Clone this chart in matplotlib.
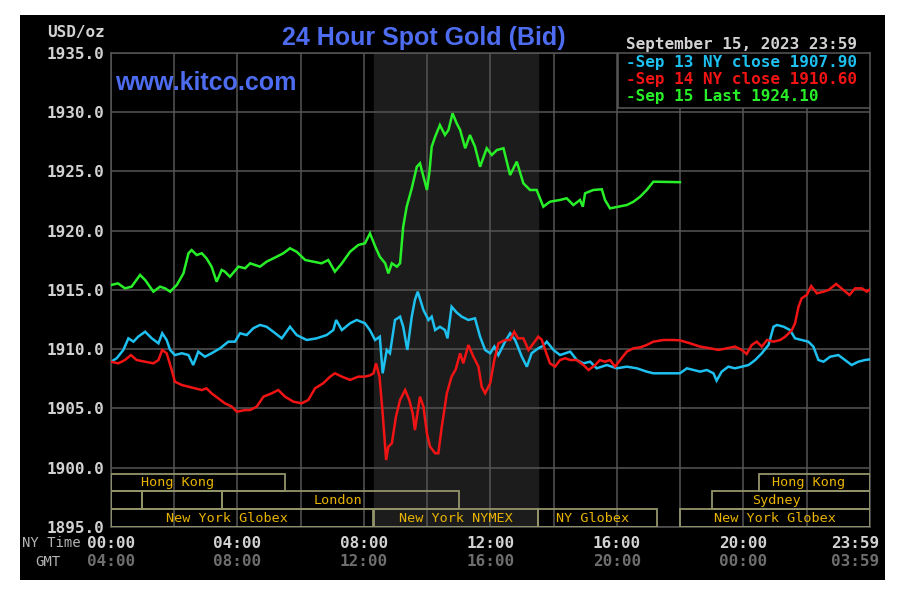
import matplotlib
matplotlib.use('Agg')
import matplotlib.pyplot as plt
from matplotlib.patches import Rectangle

# 画布尺寸 (像素)
W, H = 903, 595

# 数据: 纽约时间(小时) 和 金价
cyan_hours = [0.0, 0.18, 0.39, 0.55, 0.71, 0.86, 1.08, 1.29, 1.50, 1.62, 1.76, 1.87, 2.02, 2.24,
              2.45, 2.60, 2.76, 2.97, 3.18, 3.45, 3.71, 3.92, 4.08, 4.29, 4.50, 4.71, 4.92, 5.13,
              5.40, 5.66, 5.87, 6.19, 6.50, 6.82, 7.03, 7.12, 7.30, 7.56, 7.77, 8.03, 8.19, 8.35,
              8.50, 8.59, 8.72, 8.82, 8.98, 9.14, 9.24, 9.37, 9.51, 9.61, 9.70, 9.88, 10.04, 10.14,
              10.25, 10.40, 10.56, 10.64, 10.77, 10.93, 11.09, 11.30, 11.51, 11.67, 11.83, 11.99,
              12.12, 12.25, 12.46, 12.62, 12.78, 12.99, 13.15, 13.30, 13.51, 13.67, 13.78, 13.99,
              14.20, 14.52, 14.73, 14.94, 15.15, 15.36, 15.68, 15.99, 16.31, 16.63, 16.94, 17.15,
              17.99, 18.21, 18.42, 18.63, 18.84, 19.05, 19.15, 19.31, 19.52, 19.73, 19.95, 20.16,
              20.37, 20.58, 20.79, 20.95, 21.06, 21.27, 21.47, 21.63, 21.84, 22.05, 22.21, 22.37,
              22.53, 22.74, 23.00, 23.21, 23.42, 23.63, 23.84, 24.0]
cyan_prices = [1908.95, 1909.24, 1909.94, 1910.92, 1910.64, 1911.06, 1911.48, 1910.92, 1910.50,
               1911.35, 1910.78, 1909.94, 1909.51, 1909.66, 1909.51, 1908.67, 1909.80, 1909.37,
               1909.66, 1910.08, 1910.64, 1910.64, 1911.35, 1911.20, 1911.77, 1912.05, 1911.90,
               1911.48, 1910.92, 1911.90, 1911.20, 1910.78, 1910.92, 1911.20, 1911.62, 1912.47,
               1911.62, 1912.19, 1912.47, 1912.19, 1911.60, 1910.78, 1911.06, 1907.97, 1909.94,
               1909.66, 1912.47, 1912.75, 1911.90, 1909.94, 1912.75, 1914.16, 1914.86, 1913.31,
               1912.47, 1912.75, 1911.62, 1911.90, 1911.62, 1910.92, 1913.59, 1913.10, 1912.75,
               1912.47, 1912.61, 1911.06, 1909.94, 1909.66, 1910.22, 1909.51, 1910.64, 1911.35,
               1910.78, 1909.37, 1908.53, 1909.66, 1910.08, 1910.30, 1910.64, 1909.94, 1909.51,
               1909.80, 1909.09, 1908.81, 1908.95, 1908.39, 1908.67, 1908.39, 1908.53, 1908.39,
               1908.11, 1907.97, 1907.97, 1908.39, 1908.25, 1908.11, 1908.25, 1907.97, 1907.35,
               1908.11, 1908.53, 1908.39, 1908.53, 1908.67, 1909.09, 1909.66, 1910.36, 1911.90,
               1912.05, 1911.90, 1911.62, 1910.92, 1910.78, 1910.64, 1910.22, 1909.09, 1908.95,
               1909.37, 1909.51, 1909.09, 1908.67, 1908.95, 1909.09, 1909.15]

red_hours = [0.0, 0.23, 0.44, 0.63, 0.81, 1.08, 1.34, 1.50, 1.62, 1.76, 1.92, 2.02, 2.24, 2.45,
             2.66, 2.87, 3.02, 3.18, 3.39, 3.60, 3.82, 3.98, 4.24, 4.40, 4.61, 4.82, 5.08, 5.29,
             5.50, 5.77, 6.03, 6.24, 6.45, 6.71, 6.93, 7.08, 7.30, 7.56, 7.82, 8.03, 8.19, 8.30,
             8.38, 8.49, 8.59, 8.70, 8.77, 8.88, 9.01, 9.14, 9.30, 9.43, 9.54, 9.61, 9.77, 9.88,
             9.99, 10.09, 10.25, 10.35, 10.46, 10.62, 10.77, 10.90, 11.04, 11.14, 11.30, 11.46,
             11.62, 11.72, 11.83, 11.99, 12.12, 12.25, 12.46, 12.62, 12.75, 12.87, 13.04, 13.20,
             13.36, 13.51, 13.62, 13.73, 13.88, 14.04, 14.20, 14.36, 14.52, 14.73, 14.94, 15.10,
             15.31, 15.46, 15.62, 15.78, 15.94, 16.10, 16.31, 16.52, 16.73, 16.94, 17.15, 17.47,
             17.78, 17.99, 18.31, 18.63, 18.95, 19.21, 19.47, 19.73, 19.95, 20.10, 20.26, 20.42,
             20.58, 20.74, 20.95, 21.16, 21.32, 21.53, 21.63, 21.74, 21.84, 22.00, 22.14, 22.32,
             22.53, 22.69, 22.93, 23.16, 23.35, 23.53, 23.74, 23.90, 24.0]
red_prices = [1908.95, 1908.81, 1909.09, 1909.51, 1909.09, 1908.95, 1908.81, 1909.09, 1909.94,
              1909.66, 1908.25, 1907.26, 1906.98, 1906.84, 1906.70, 1906.56, 1906.70, 1906.28,
              1905.86, 1905.44, 1905.16, 1904.73, 1904.87, 1904.87, 1905.16, 1906.00, 1906.28,
              1906.56, 1906.00, 1905.57, 1905.44, 1905.72, 1906.70, 1907.13, 1907.69, 1907.97,
              1907.69, 1907.41, 1907.69, 1907.69, 1907.80, 1907.97, 1908.81, 1907.69, 1904.59,
              1900.65, 1901.78, 1902.06, 1904.31, 1905.72, 1906.56, 1905.72, 1904.59, 1903.18,
              1906.00, 1905.16, 1902.90, 1901.78, 1901.22, 1901.22, 1903.47, 1906.28, 1907.69,
              1908.30, 1909.66, 1908.81, 1910.36, 1909.37, 1908.53, 1906.84, 1906.28, 1907.13,
              1909.09, 1910.50, 1910.78, 1910.78, 1911.48, 1910.92, 1910.92, 1909.94, 1910.50,
              1911.06, 1910.80, 1909.94, 1908.81, 1908.53, 1909.09, 1909.24, 1909.09, 1909.09,
              1908.67, 1908.25, 1908.67, 1909.09, 1908.95, 1909.09, 1908.53, 1909.09, 1909.80,
              1910.08, 1910.16, 1910.36, 1910.64, 1910.78, 1910.78, 1910.75, 1910.50, 1910.22,
              1910.08, 1909.94, 1910.08, 1910.22, 1909.94, 1909.60, 1910.36, 1910.64, 1910.22,
              1910.78, 1910.64, 1910.78, 1911.06, 1911.62, 1912.19, 1913.59, 1914.30, 1914.58,
              1915.34, 1914.72, 1914.86, 1915.00, 1915.51, 1915.00, 1914.58, 1915.14, 1915.14,
              1914.86, 1915.06]

green_hours = [0.0, 0.22, 0.44, 0.65, 0.92, 1.08, 1.34, 1.55, 1.71, 1.87, 2.08, 2.29, 2.45, 2.55,
               2.71, 2.87, 3.02, 3.18, 3.34, 3.50, 3.60, 3.76, 4.03, 4.24, 4.40, 4.71, 4.92, 5.24,
               5.45, 5.66, 5.87, 6.14, 6.40, 6.66, 6.87, 7.08, 7.30, 7.56, 7.82, 8.03, 8.19, 8.35,
               8.50, 8.67, 8.77, 8.88, 9.04, 9.14, 9.24, 9.35, 9.51, 9.67, 9.77, 9.88, 9.99, 10.07,
               10.14, 10.25, 10.40, 10.56, 10.67, 10.80, 10.93, 11.04, 11.20, 11.35, 11.51, 11.67,
               11.88, 12.04, 12.20, 12.41, 12.62, 12.83, 13.04, 13.25, 13.46, 13.67, 13.88, 14.20,
               14.41, 14.62, 14.83, 14.92, 14.99, 15.25, 15.52, 15.62, 15.78, 16.04, 16.31, 16.52,
               16.73, 16.94, 17.15, 17.99]
green_prices = [1915.42, 1915.56, 1915.14, 1915.28, 1916.27, 1915.84, 1914.86, 1915.28, 1915.14,
                1914.86, 1915.42, 1916.40, 1918.10, 1918.37, 1917.95, 1918.10, 1917.67, 1916.97,
                1915.70, 1916.69, 1916.55, 1916.12, 1916.97, 1916.83, 1917.25, 1916.97, 1917.39,
                1917.81, 1918.10, 1918.52, 1918.23, 1917.53, 1917.39, 1917.25, 1917.53, 1916.55,
                1917.25, 1918.23, 1918.80, 1918.94, 1919.78, 1918.70, 1917.81, 1917.25, 1916.40,
                1917.25, 1916.97, 1917.25, 1920.35, 1922.03, 1923.58, 1925.40, 1925.69, 1924.56,
                1923.44, 1924.98, 1927.09, 1927.94, 1928.92, 1928.08, 1928.50, 1929.91, 1929.07,
                1928.50, 1926.96, 1928.08, 1927.09, 1925.40, 1926.96, 1926.39, 1926.81, 1926.96,
                1924.70, 1925.83, 1924.00, 1923.44, 1923.44, 1922.03, 1922.45, 1922.60, 1922.74,
                1922.17, 1922.60, 1922.03, 1923.16, 1923.44, 1923.50, 1922.60, 1921.89, 1922.03,
                1922.17, 1922.45, 1922.87, 1923.44, 1924.14, 1924.10]

legend_labels = ['-Sep 13 NY close 1907.90', '-Sep 14 NY close 1910.60', '-Sep 15 Last 1924.10']
line_colors = ['#1ec0f0', '#f01414', '#28f028']

y_ticks = [1895, 1900, 1905, 1910, 1915, 1920, 1925, 1930, 1935]
x_label_hours = [0, 4, 8, 12, 16, 20, 24]
ny_labels = ['00:00', '04:00', '08:00', '12:00', '16:00', '20:00', '23:59']
gmt_labels = ['04:00', '08:00', '12:00', '16:00', '20:00', '00:00', '03:59']

# 交易时段框: 名称, 开始, 结束, 行(0=底部), 标签位置
session_names = ['New York Globex', 'New York NYMEX', 'NY Globex', 'New York Globex',
                 '', '', 'London', 'Sydney', 'Hong Kong', 'Hong Kong']
session_start = [0.0, 8.33, 13.5, 18.0, 0.0, 0.97, 3.5, 19.0, 0.0, 20.5]
session_end = [8.27, 13.5, 17.25, 24.0, 0.97, 3.5, 11.0, 24.0, 5.5, 24.0]
session_row = [0, 0, 0, 0, 1, 1, 1, 1, 2, 2]
session_label_at = [3.66, 10.9, 15.24, 21.0, 0, 0, 7.18, 21.03, 2.12, 22.07]
nymex_span = (8.33, 13.5)

MONO = 'DejaVu Sans Mono'
TEXT_GREY = '#d2d2d2'


def px(x, y):
    """像素坐标 -> figure 坐标"""
    return x / W, 1 - y / H


fig = plt.figure(figsize=(W / 100, H / 100), dpi=100)
fig.patch.set_facecolor('white')
# 黑色背景板
fig.patches.append(Rectangle(px(20, 580), 865 / W, 565 / H, transform=fig.transFigure,
                             facecolor='black', edgecolor='none', zorder=-10))

x0, y0 = px(111, 527)
ax = fig.add_axes([x0, y0, 759 / W, 474 / H])
ax.set_zorder(1)
ax.set_facecolor('black')
ax.set_xlim(0, 24)
ax.set_ylim(1895, 1935)
ax.axvspan(*nymex_span, color='#1c1c1c', zorder=0)

# 网格
ax.set_xticks(range(0, 25, 2))
ax.set_yticks(y_ticks)
ax.set_yticklabels([f'{v:.1f}' for v in y_ticks])
ax.grid(color='#555555', linewidth=1.1, zorder=1)
ax.set_axisbelow(True)
ax.tick_params(length=0, labelbottom=False, pad=4.5, labelcolor=TEXT_GREY, labelsize=11.5)
for lbl in ax.get_yticklabels():
    lbl.set_fontfamily(MONO)
    lbl.set_fontweight('bold')
for sp in ax.spines.values():
    sp.set_color('#555555')
    sp.set_linewidth(1.1)

# 交易时段
row_h = 1.5
for name, s, e, r, lx in zip(session_names, session_start, session_end, session_row, session_label_at):
    ax.add_patch(Rectangle((s, 1895 + r * row_h), e - s, row_h, fill=False,
                           edgecolor='#94946a', linewidth=1.3, zorder=3))
    if name:
        ax.text(lx, 1895 + r * row_h + row_h / 2, name, ha='center', va='center',
                color='#e8b400', fontfamily=MONO, fontsize=9.7, zorder=4)

# 价格曲线
for hrs, prices, c in [(cyan_hours, cyan_prices, line_colors[0]),
                       (red_hours, red_prices, line_colors[1]),
                       (green_hours, green_prices, line_colors[2])]:
    ax.plot(hrs, prices, color=c, linewidth=1.8, zorder=4, solid_joinstyle='miter')

# 图例框
ax.add_patch(Rectangle((0.668, 0.884), 0.332, 0.116, transform=ax.transAxes,
                       facecolor='black', edgecolor='#5a5a5a', linewidth=1.1, zorder=5))
for i, (lab, c) in enumerate(zip(legend_labels, line_colors)):
    fig.text(*px(626, 62 + i * 17.5), lab, color=c, fontfamily=MONO, fontweight='bold',
             fontsize=11.5, ha='left', va='center', zorder=6)

# x 轴标签 (纽约时间 / GMT)
for h, ny, gmt in zip(x_label_hours, ny_labels, gmt_labels):
    ha = 'right' if h == 24 else 'center'
    dx = 9 if h == 24 else 0
    ax.annotate(ny, xy=(h, 0), xycoords=('data', 'axes fraction'), xytext=(dx, -16),
                textcoords='offset pixels', ha=ha, va='center', color=TEXT_GREY,
                fontfamily=MONO, fontweight='bold', fontsize=11.5, annotation_clip=False)
    ax.annotate(gmt, xy=(h, 0), xycoords=('data', 'axes fraction'), xytext=(dx, -35),
                textcoords='offset pixels', ha=ha, va='center', color='#6e6e6e',
                fontfamily=MONO, fontweight='bold', fontsize=11.5, annotation_clip=False)
fig.text(*px(22, 543), 'NY Time', color='#b4b4b4', fontfamily=MONO, fontsize=10,
         ha='left', va='center')
fig.text(*px(35, 562), 'GMT', color='#b4b4b4', fontfamily=MONO, fontsize=10,
         ha='left', va='center')

# 标题和文字
fig.text(*px(47, 33), 'USD/oz', color=TEXT_GREY, fontfamily=MONO, fontweight='bold',
         fontsize=11.5, ha='left', va='center')
fig.text(*px(424, 38), '24 Hour Spot Gold (Bid)', color='#4d6cf0', fontfamily='Liberation Sans',
         fontweight='bold', fontsize=18, ha='center', va='center')
fig.text(*px(115, 83), 'www.kitco.com', color='#4d6cf0', fontfamily='Liberation Sans',
         fontweight='bold', fontsize=18, ha='left', va='center')
fig.text(*px(626, 44), 'September 15, 2023 23:59', color=TEXT_GREY, fontfamily=MONO,
         fontweight='bold', fontsize=11.5, ha='left', va='center')

plt.savefig('out.png', dpi=100, facecolor=fig.get_facecolor())
plt.close()
